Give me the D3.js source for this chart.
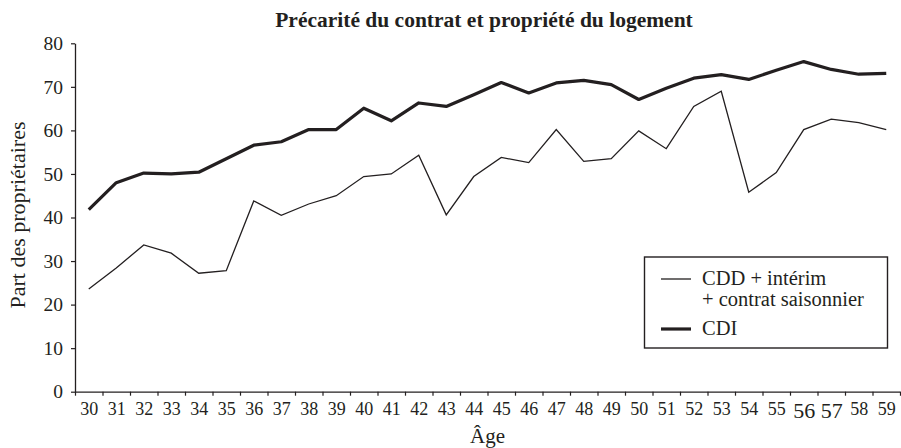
<!DOCTYPE html>
<html>
<head>
<meta charset="utf-8">
<script src="https://cdn.jsdelivr.net/npm/d3@7"></script>
<style>
  body { margin: 0; background: #fff; }
  text { font-family: "Liberation Serif", "Times New Roman", serif; fill: #231f20; }
</style>
</head>
<body>
<script>
// Précarité du contrat et propriété du logement - two lines by age

var ages = [30, 31, 32, 33, 34, 35, 36, 37, 38, 39, 40, 41, 42, 43, 44,
            45, 46, 47, 48, 49, 50, 51, 52, 53, 54, 55, 56, 57, 58, 59];

// CDD + intérim + contrat saisonnier
var cdd = [23.6, 28.4, 33.7, 31.8, 27.2, 27.8, 43.8, 40.5, 43.1, 45.0,
           49.4, 50.0, 54.3, 40.6, 49.4, 53.8, 52.6, 60.2, 52.9, 53.5,
           59.9, 55.8, 65.5, 69.0, 45.8, 50.3, 60.2, 62.6, 61.8, 60.2];

// CDI
var cdi = [41.8, 48.0, 50.2, 50.0, 50.4, 53.5, 56.6, 57.4, 60.2, 60.2,
           65.1, 62.2, 66.3, 65.5, 68.2, 71.0, 68.6, 70.9, 71.5, 70.5,
           67.1, 69.7, 72.0, 72.8, 71.7, 73.8, 75.8, 74.0, 72.9, 73.1];

var yTicks = [0, 10, 20, 30, 40, 50, 60, 70, 80];

var width = 901, height = 448;
var plotLeft = 75, plotRight = 900, plotTop = 43.3, plotBottom = 391.7;
var ink = "#231f20";

var svg = d3.select("body").append("svg")
            .attr("width", width)
            .attr("height", height);

// ages sit in the middle of each slot, ticks on the slot edges
var x = d3.scaleLinear()
          .domain([ages[0] - 0.5, ages[ages.length - 1] + 0.5])
          .range([plotLeft, plotRight]);

var y = d3.scaleLinear()
          .domain([0, 80])
          .range([plotBottom, plotTop]);

//y axis
var yAxis = svg.append("g")
               .attr("transform", "translate(" + plotLeft + ",0)")
               .call(d3.axisLeft(y).tickValues(yTicks).tickSize(4).tickSizeOuter(0).tickPadding(8));
yAxis.select(".domain").attr("stroke", ink).attr("stroke-width", 1.3);
yAxis.selectAll(".tick line").attr("stroke", ink).attr("stroke-width", 1.2);
yAxis.selectAll(".tick text")
     .attr("font-size", 19.5)
     .attr("font-family", "Liberation Serif")
     .attr("fill", ink);

//x axis: tick marks on edges
var edges = ages.map(function(a){ return a - 0.5; }).concat([ages[ages.length - 1] + 0.5]);
var xAxis = svg.append("g")
               .attr("transform", "translate(0," + plotBottom + ")")
               .call(d3.axisBottom(x).tickValues(edges).tickSize(4).tickSizeOuter(0).tickFormat(""));
xAxis.select(".domain").attr("stroke", ink).attr("stroke-width", 1.3);
xAxis.selectAll(".tick line").attr("stroke", ink).attr("stroke-width", 1.2);

//x labels centered in the slots
var xLabels = svg.append("g")
                 .attr("transform", "translate(0," + plotBottom + ")")
                 .call(d3.axisBottom(x).tickValues(ages).tickSize(0).tickPadding(11).tickFormat(d3.format("d")));
xLabels.select(".domain").remove();
xLabels.selectAll(".tick text")
       .attr("font-size", function(d){ return (d == 56 || d == 57) ? 22 : 18; })
       .attr("font-family", "Liberation Serif")
       .attr("fill", ink);

//the two lines
var line = d3.line()
             .x(function(d, i){ return x(ages[i]); })
             .y(function(d){ return y(d); });

svg.append("path")
   .datum(cdd)
   .attr("d", line)
   .attr("fill", "none")
   .attr("stroke", ink)
   .attr("stroke-width", 1.3)
   .attr("stroke-linejoin", "miter");

svg.append("path")
   .datum(cdi)
   .attr("d", line)
   .attr("fill", "none")
   .attr("stroke", ink)
   .attr("stroke-width", 3.2)
   .attr("stroke-linejoin", "round");

//titles
svg.append("text")
   .attr("x", 484)
   .attr("y", 26.5)
   .attr("text-anchor", "middle")
   .attr("font-size", 21.5)
   .attr("font-weight", "bold")
   .text("Précarité du contrat et propriété du logement");

svg.append("text")
   .attr("transform", "translate(25,215) rotate(-90)")
   .attr("text-anchor", "middle")
   .attr("font-size", 22)
   .text("Part des propriétaires");

svg.append("text")
   .attr("x", (plotLeft + plotRight) / 2)
   .attr("y", 443)
   .attr("text-anchor", "middle")
   .attr("font-size", 21)
   .text("Âge");

//legend
var legend = svg.append("g");
legend.append("rect")
      .attr("x", 644.5)
      .attr("y", 257)
      .attr("width", 243)
      .attr("height", 91)
      .attr("fill", "#fff")
      .attr("stroke", ink)
      .attr("stroke-width", 1.4);

var legendItems = [
  {lines: ["CDD + intérim", "+ contrat saisonnier"], w: 1.3, ly: 279},
  {lines: ["CDI"], w: 3.2, ly: 329}
];

legendItems.forEach(function(item){
  legend.append("line")
        .attr("x1", 661).attr("x2", 691)
        .attr("y1", item.ly).attr("y2", item.ly)
        .attr("stroke", ink)
        .attr("stroke-width", item.w);
  item.lines.forEach(function(t, k){
    legend.append("text")
          .attr("x", 702)
          .attr("y", item.ly + 6 + k * 21)
          .attr("font-size", 20.5)
          .text(t);
  });
});
</script>
</body>
</html>
